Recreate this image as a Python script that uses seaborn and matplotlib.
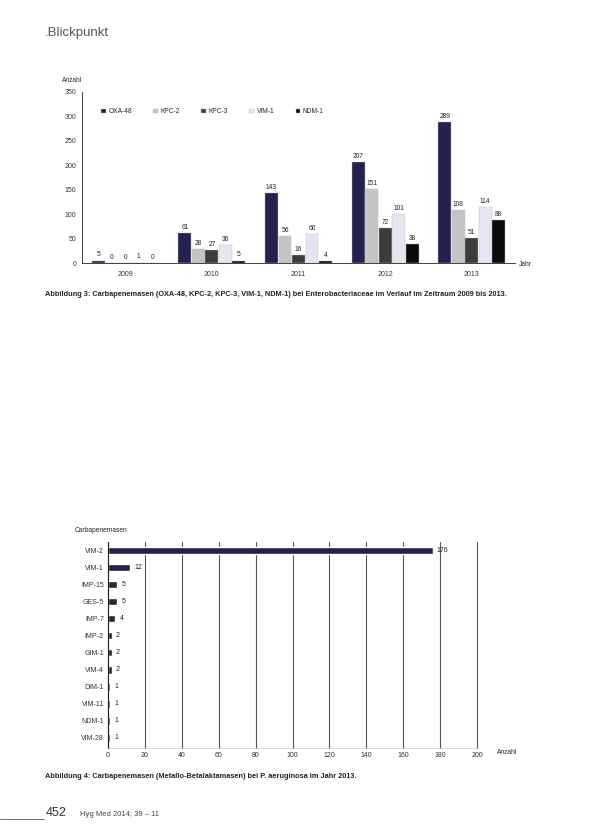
import matplotlib
matplotlib.use("Agg")
import matplotlib.pyplot as plt
import seaborn as sns
import pandas as pd
import numpy as np

sns.set_style("white")
plt.rcParams['font.family'] = ['Liberation Sans', 'DejaVu Sans']

# ---- data chart 1 ----
years = ["2009", "2010", "2011", "2012", "2013"]
enzymes = ["OXA-48", "KPC-2", "KPC-3", "VIM-1", "NDM-1"]
oxa48 = [5, 61, 143, 207, 289]
kpc2 = [0, 28, 56, 151, 108]
kpc3 = [0, 27, 16, 72, 51]
vim1 = [1, 36, 60, 101, 114]
ndm1 = [0, 5, 4, 38, 88]
enzyme_colors = ["#1c1a55", "#c4c4c4", "#3c3c3c", "#e4e4f4", "#0a0a0a"]

# ---- data chart 2 ----
mbl_names = ["VIM-2", "VIM-1", "IMP-15", "GES-5", "IMP-7", "IMP-2", "GIM-1",
             "VIM-4", "DIM-1", "VIM-11", "NDM-1", "VIM-28"]
mbl_counts = [176, 12, 5, 5, 4, 2, 2, 2, 1, 1, 1, 1]
mbl_colors = ["#1c1a55", "#1c1a55"] + ["#2a2a2a"] * 10

W, H = 592, 840
fig = plt.figure(figsize=(W / 100, H / 100), dpi=100)

def fx(px):
    return px / W

def fy(py):
    return 1 - py / H

# header
fig.text(fx(45), fy(33), ".Blickpunkt", fontsize=9.5, color="#555555", va="center")

# ---- chart 1 ----
df1 = pd.DataFrame({
    "Jahr": years * 5,
    "Enzym": sum([[e] * 5 for e in enzymes], []),
    "Anzahl": oxa48 + kpc2 + kpc3 + vim1 + ndm1,
})
ax1 = fig.add_axes([fx(82), fy(263), fx(515) - fx(82), fy(92) - fy(263)])
sns.barplot(data=df1, x="Jahr", y="Anzahl", hue="Enzym", hue_order=enzymes,
            palette=enzyme_colors, width=0.78, gap=0.04, ax=ax1,
            edgecolor="#bbbbbb", linewidth=0.3, errorbar=None)
for cont in ax1.containers:
    ax1.bar_label(cont, fontsize=4.8, padding=1.5, color="#222222")
ax1.set_ylim(0, 350)
ax1.set_xlim(-0.5, 4.5)
ax1.set_yticks(np.arange(0, 351, 50))
ax1.tick_params(axis="both", labelsize=5, colors="#333333", length=2, width=0.5, pad=2)
ax1.tick_params(axis="x", length=0, pad=6)
ax1.set_xlabel("")
ax1.set_ylabel("")
for s in ["top", "right"]:
    ax1.spines[s].set_visible(False)
for s in ["left", "bottom"]:
    ax1.spines[s].set_linewidth(0.6)
    ax1.spines[s].set_color("#222222")
leg = ax1.legend(loc="upper left", bbox_to_anchor=(0.03, 0.94), ncol=5, frameon=False,
                 fontsize=4.8, handlelength=0.7, handleheight=0.7, columnspacing=3.2,
                 handletextpad=0.4)
fig.text(fx(62), fy(80), "Anzahl", fontsize=4.8, color="#222222", va="center")
fig.text(fx(519), fy(264), "Jahr", fontsize=4.8, color="#222222", va="center")

fig.text(fx(45), fy(294),
         "Abbildung 3: Carbapenemasen (OXA-48, KPC-2, KPC-3, VIM-1, NDM-1) bei Enterobacteriaceae im Verlauf im Zeitraum 2009 bis 2013.",
         fontsize=5.3, fontweight="bold", color="#222222", va="center")

# ---- chart 2 ----
df2 = pd.DataFrame({"Enzym": mbl_names, "Anzahl": mbl_counts})
ax2 = fig.add_axes([fx(108), fy(748), fx(477) - fx(108), fy(542) - fy(748)])
sns.barplot(data=df2, x="Anzahl", y="Enzym", hue="Enzym", palette=mbl_colors,
            orient="h", width=0.45, legend=False, ax=ax2, errorbar=None)
for cont in ax2.containers:
    ax2.bar_label(cont, fontsize=5, padding=3, color="#222222")
ax2.set_xlim(0, 200)
ax2.set_ylim(11.6, -0.5)
ax2.set_xticks(np.arange(0, 201, 20))
ax2.xaxis.grid(True, color="#555555", linewidth=0.8)
for gl in ax2.get_xgridlines():
    gl.set_clip_on(False)
ax2.set_axisbelow(True)
ax2.tick_params(axis="both", labelsize=5, colors="#333333", length=0, pad=3)
ax2.set_xlabel("")
ax2.set_ylabel("")
for s in ["top", "right"]:
    ax2.spines[s].set_visible(False)
ax2.spines["left"].set_linewidth(0.8)
ax2.spines["left"].set_color("#222222")
ax2.spines["bottom"].set_linewidth(0.4)
ax2.spines["bottom"].set_color("#bbbbbb")
fig.text(fx(75), fy(530), "Carbapenemasen", fontsize=4.8, color="#222222", va="center")
fig.text(fx(497), fy(752), "Anzahl", fontsize=4.8, color="#222222", va="center")

fig.text(fx(45), fy(777),
         "Abbildung 4: Carbapenemasen (Metallo-Betalaktamasen) bei P. aeruginosa im Jahr 2013.",
         fontsize=5.3, fontweight="bold", color="#222222", va="center")

# footer
fig.add_artist(plt.Line2D([0, fx(44)], [fy(819), fy(819)], color="#555555", linewidth=0.6))
fig.text(fx(46), fy(813), "452", fontsize=9, color="#333333", va="center")
fig.text(fx(80), fy(815), "Hyg Med 2014; 39 – 11", fontsize=5.5, color="#444444", va="center")

fig.savefig("out.png", dpi=100)
